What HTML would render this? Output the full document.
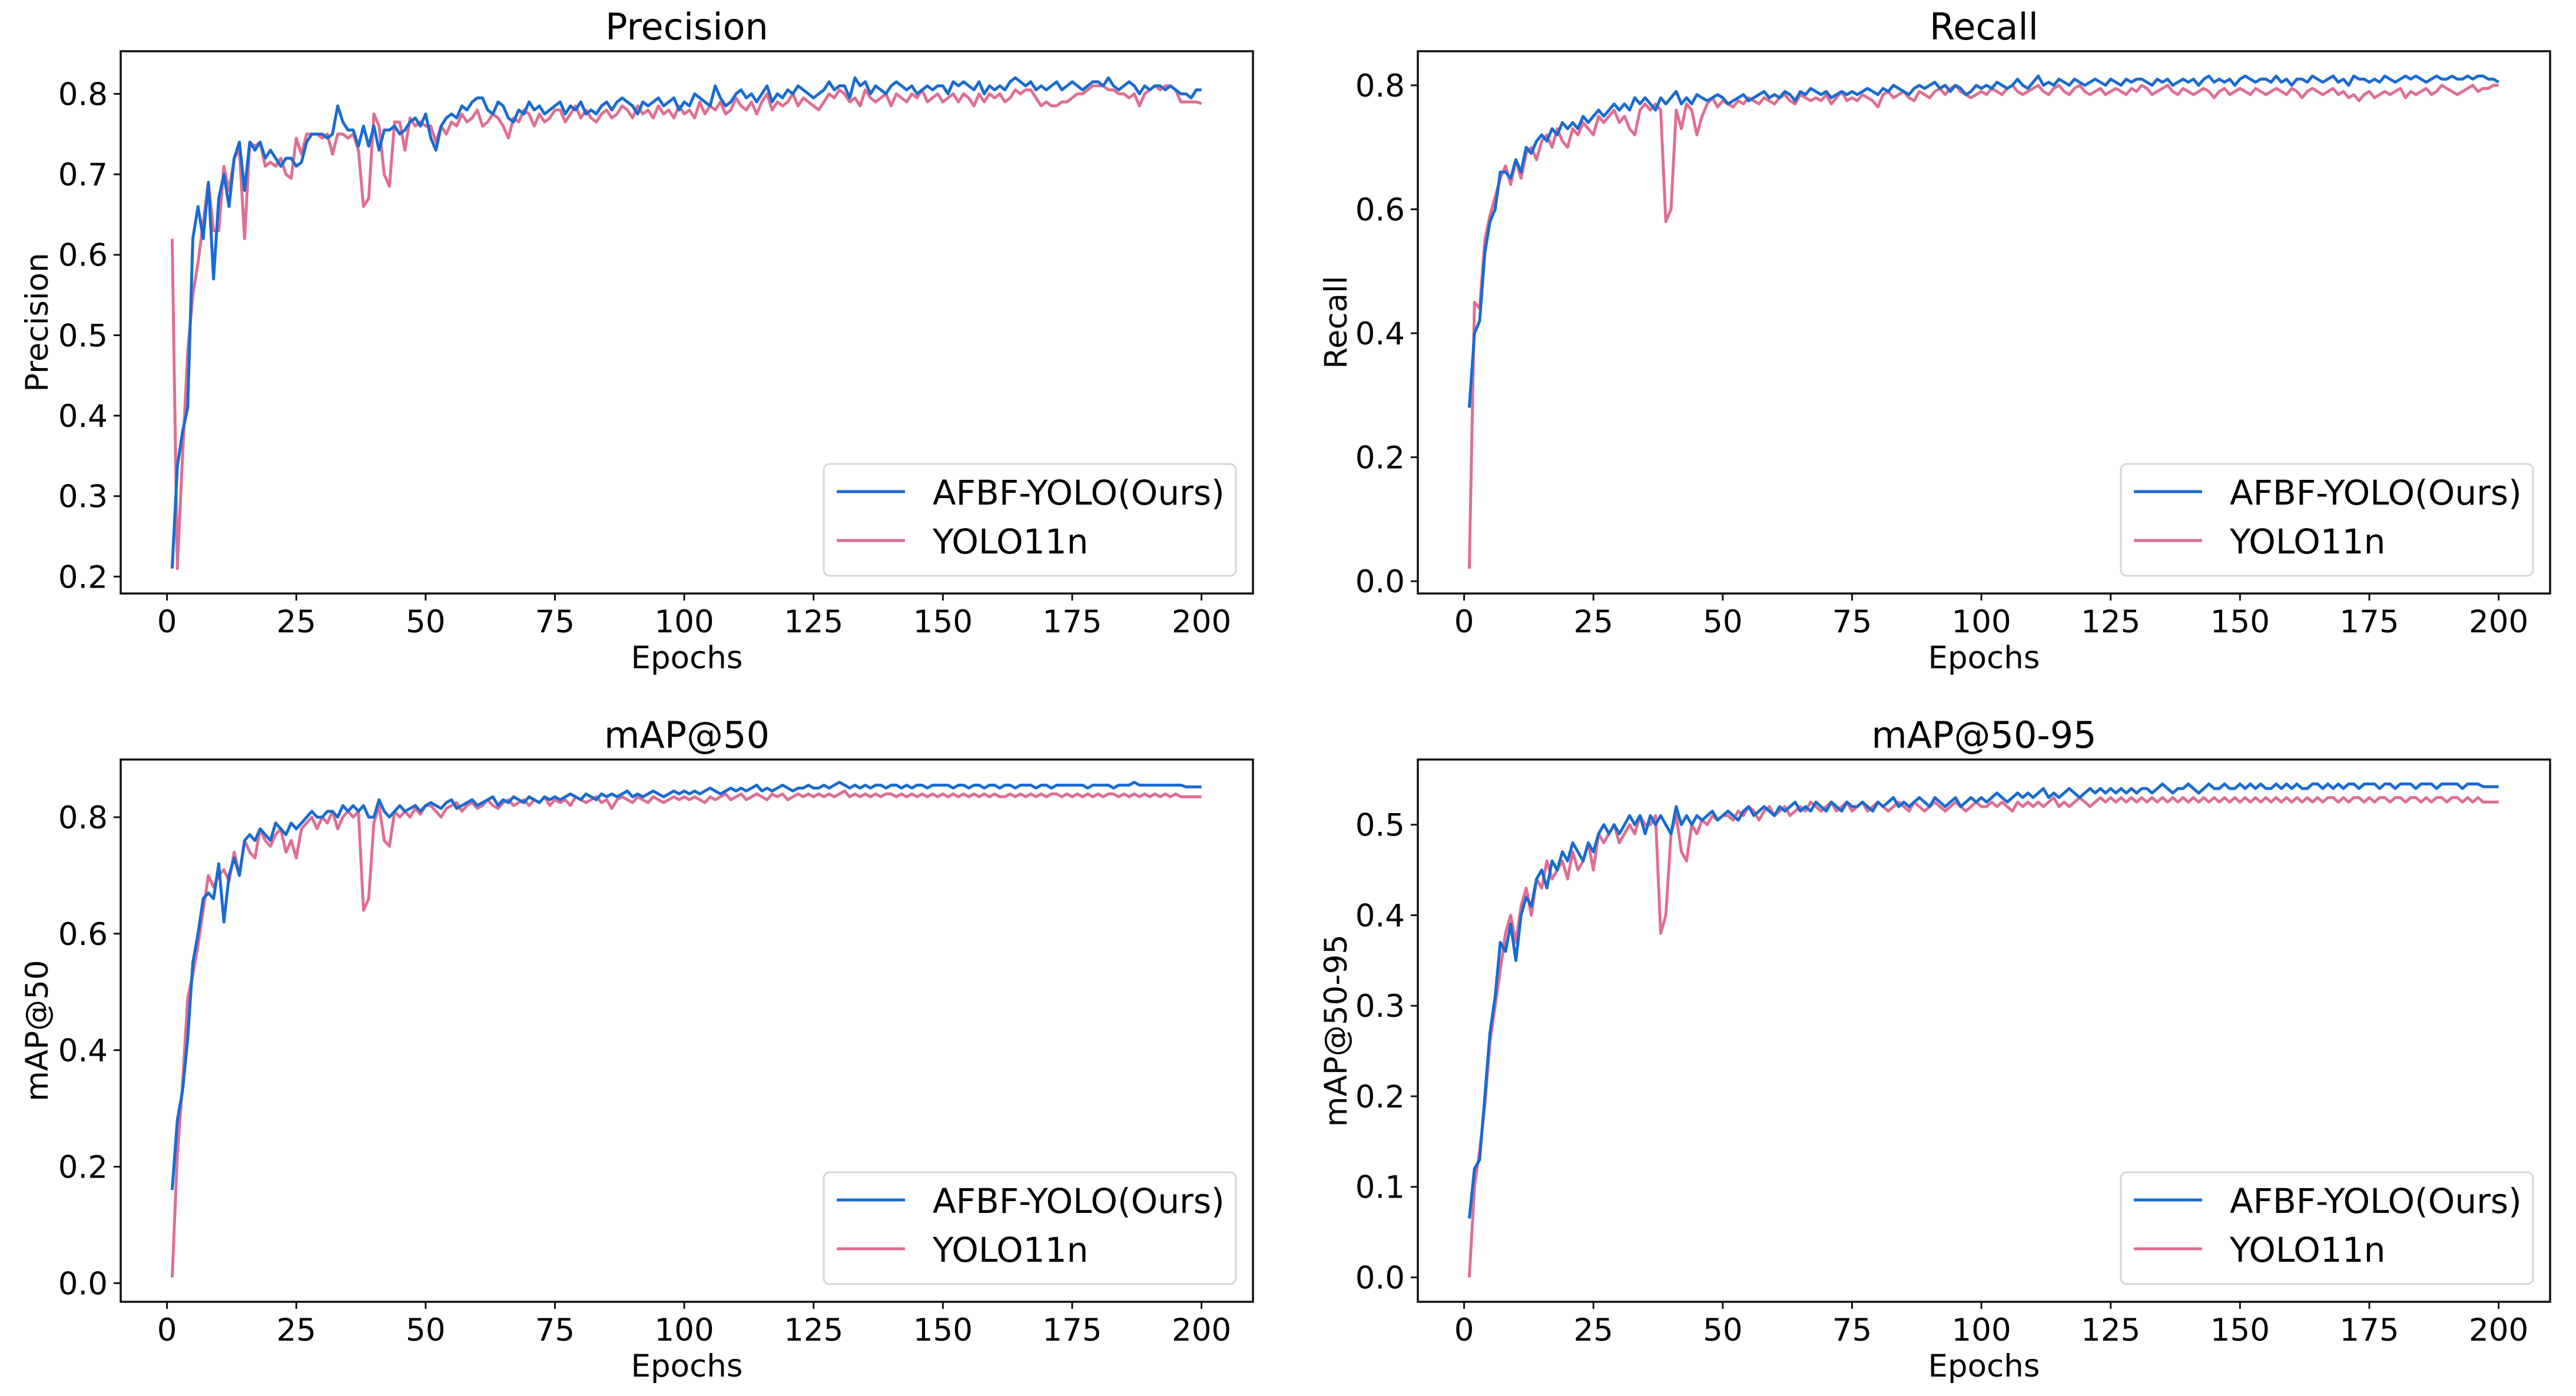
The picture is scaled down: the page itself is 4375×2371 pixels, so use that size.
<!DOCTYPE html>
<html><head><meta charset="utf-8"><style>
html,body{margin:0;padding:0;background:#fff;}
svg{display:block;}
text{font-family:"DejaVu Sans","Liberation Sans",sans-serif;fill:#000;}
</style></head><body>
<svg id="fig" width="4375" height="2371" viewBox="0 0 4375 2371" xmlns="http://www.w3.org/2000/svg"></svg>
<script>
const epochsMax = 200;
const xTicks = [0,25,50,75,100,125,150,175,200];
const seriesNames = ["AFBF-YOLO(Ours)","YOLO11n"];

const precOurs = [.21,.337,.38,.41,.62,.66,.62,.69,.57,.67,.70,.66,.72,.74,.68,.74,.73,.74,.72,.73,.72,.71,.72,.72,.71,.715,.74,.75,.75,.75,.745,.75,.785,.765,.755,.755,.735,.76,.735,.76,.73,.755,.755,.76,.75,.755,.765,.77,.76,.775,
.745,.73,.76,.77,.775,.77,.785,.78,.79,.795,.795,.78,.775,.79,.785,.77,.765,.78,.775,.79,.78,.785,.775,.78,.785,
.79,.775,.785,.78,.79,.775,.78,.775,.785,.79,.78,.79,.795,.79,.785,.775,.79,.785,.79,.795,.785,.79,.795,.78,.79,
.785,.8,.795,.79,.785,.81,.795,.785,.79,.8,.805,.795,.8,.79,.8,.81,.79,.8,.795,.805,.8,.81,.805,.8,.795,
.8,.805,.815,.805,.81,.81,.795,.82,.81,.815,.8,.81,.805,.8,.81,.815,.81,.805,.81,.8,.805,.81,.805,.81,.81,
.8,.815,.81,.815,.81,.805,.815,.8,.81,.805,.81,.805,.815,.82,.815,.81,.815,.805,.81,.805,.81,.815,.805,.81,.815,
.81,.805,.81,.815,.815,.81,.82,.81,.805,.81,.815,.81,.8,.81,.805,.81,.81,.805,.81,.805,.8,.8,.795,.805,.805];
const precBase = [.62,.21,.35,.48,.55,.59,.64,.69,.63,.63,.71,.68,.72,.73,.62,.74,.735,.74,.71,.715,.71,.72,.70,.695,.745,.725,.75,.75,.75,.745,.75,.725,.75,.75,.745,.75,.73,.66,.67,.775,.76,.70,.685,.765,.765,.73,.77,.76,.765,.76,
.76,.74,.76,.75,.765,.76,.775,.765,.77,.78,.76,.765,.775,.77,.76,.745,.77,.765,.78,.775,.76,.775,.765,.77,.78,
.78,.765,.775,.785,.77,.78,.77,.765,.775,.78,.77,.775,.785,.78,.77,.785,.775,.78,.77,.785,.775,.78,.77,.785,.775,
.78,.77,.79,.775,.785,.78,.79,.775,.78,.795,.785,.78,.79,.775,.79,.8,.78,.79,.785,.79,.8,.785,.795,.79,.785,
.78,.79,.8,.795,.805,.8,.79,.795,.785,.805,.795,.79,.795,.8,.785,.8,.795,.79,.8,.795,.805,.79,.795,.8,.79,
.795,.8,.79,.8,.795,.785,.8,.79,.8,.795,.8,.79,.795,.805,.8,.805,.805,.795,.785,.79,.785,.785,.79,.79,.795,
.8,.8,.805,.81,.81,.81,.805,.805,.8,.8,.795,.8,.785,.8,.805,.81,.805,.81,.81,.805,.79,.79,.79,.79,.788];

const recOurs = [.28,.40,.42,.53,.58,.60,.66,.66,.65,.68,.66,.70,.69,.71,.72,.71,.73,.72,.74,.73,.74,.73,.75,.74,.75,.76,.75,.76,.77,.76,.77,.76,.78,.77,.78,.77,.76,.78,.77,.78,.79,.77,
.78,.77,.785,.78,.775,.78,.785,.78,
.77,.775,.78,.785,.775,.78,.785,.79,.78,.785,.78,.79,.785,.775,.79,.785,.795,.79,.785,.79,.78,.785,.79,.785,.79,
.785,.79,.795,.79,.785,.795,.79,.8,.795,.79,.785,.795,.8,.795,.8,.805,.795,.8,.79,.8,.795,.785,.79,.8,.795,
.8,.795,.805,.8,.795,.8,.81,.8,.795,.805,.815,.8,.805,.8,.81,.805,.8,.81,.805,.8,.805,.81,.805,.8,.81,
.805,.8,.81,.805,.81,.81,.805,.8,.81,.805,.81,.8,.805,.81,.805,.81,.8,.81,.815,.805,.81,.805,.81,.8,.81,
.815,.81,.805,.81,.81,.805,.815,.805,.81,.8,.81,.81,.805,.815,.81,.805,.81,.815,.805,.81,.8,.815,.81,.81,.805,
.81,.805,.815,.81,.805,.81,.815,.81,.815,.81,.805,.81,.815,.81,.81,.815,.81,.81,.815,.81,.815,.815,.81,.81,.805];
const recBase = [.02,.45,.44,.55,.59,.62,.65,.67,.64,.68,.65,.69,.70,.68,.71,.72,.70,.73,.71,.70,.73,.72,.74,.73,.72,.75,.74,.75,.76,.74,.75,.73,.72,.76,.77,.76,.77,.76,.58,.60,.76,.73,.77,.76,.72,.75,
.77,.78,.765,.775,
.77,.765,.775,.77,.78,.775,.77,.78,.775,.77,.78,.785,.775,.77,.785,.78,.775,.78,.775,.785,.77,.78,.79,.775,.78,
.775,.785,.78,.775,.765,.785,.79,.78,.785,.79,.78,.775,.79,.785,.78,.79,.795,.785,.795,.8,.79,.785,.78,.785,.79,
.785,.795,.79,.785,.795,.8,.79,.785,.79,.795,.8,.79,.785,.795,.8,.79,.785,.795,.8,.79,.785,.79,.795,.785,.79,
.795,.79,.785,.795,.79,.8,.795,.785,.79,.795,.8,.79,.785,.795,.79,.785,.79,.795,.79,.78,.79,.795,.785,.79,.795,
.79,.785,.795,.79,.785,.79,.795,.79,.785,.795,.79,.78,.79,.795,.79,.785,.79,.795,.785,.79,.78,.785,.775,.785,.79,
.78,.785,.79,.785,.79,.795,.78,.79,.785,.79,.795,.785,.79,.8,.795,.79,.785,.79,.795,.8,.79,.795,.795,.8,.8];

const m50Ours = [.16,.28,.33,.42,.55,.60,.66,.67,.66,.72,.62,.70,.73,.70,.76,.77,.76,.78,.77,.76,.79,.78,.77,.79,.78,.79,.80,.81,.80,.80,.81,.81,.80,.82,.81,.82,.81,.82,.80,.80,.83,.81,.80,.81,
.82,.81,.815,.82,.81,.82,
.825,.82,.815,.825,.83,.815,.82,.825,.83,.82,.825,.83,.835,.82,.83,.825,.835,.83,.825,.835,.83,.825,.835,.83,.835,
.83,.835,.84,.835,.83,.84,.835,.83,.84,.835,.84,.835,.84,.845,.835,.84,.835,.84,.845,.84,.835,.84,.845,.84,.845,
.84,.845,.84,.845,.85,.845,.84,.845,.85,.845,.85,.845,.85,.855,.845,.85,.845,.85,.855,.85,.845,.85,.85,.855,.85,
.85,.855,.85,.855,.86,.855,.85,.855,.85,.855,.85,.855,.855,.85,.855,.855,.85,.855,.85,.855,.855,.85,.855,.855,.855,
.855,.85,.855,.855,.85,.855,.855,.85,.855,.855,.85,.855,.855,.85,.855,.855,.855,.85,.855,.855,.85,.855,.855,.855,.855,
.855,.855,.85,.855,.855,.855,.855,.85,.855,.855,.855,.86,.855,.855,.855,.855,.855,.855,.855,.855,.855,.852,.852,.852,.852];
const m50Base = [.01,.22,.34,.49,.53,.58,.64,.70,.68,.70,.71,.69,.74,.70,.76,.74,.73,.78,.76,.75,.77,.78,.74,.76,.73,.78,.79,.80,.78,.80,.79,.81,.78,.80,.81,.80,.81,.64,.66,.79,.82,.76,.75,.81,.80,
.81,.8,.815,.805,.82,
.82,.81,.8,.815,.82,.825,.81,.82,.825,.815,.82,.83,.82,.815,.825,.83,.82,.825,.83,.82,.83,.825,.835,.82,.83,
.825,.83,.82,.835,.83,.825,.83,.835,.825,.83,.815,.83,.835,.83,.825,.835,.83,.825,.835,.83,.825,.83,.835,.83,.835,
.83,.835,.83,.825,.835,.83,.835,.84,.83,.835,.84,.83,.835,.84,.835,.83,.84,.835,.84,.83,.835,.84,.835,.84,.835,
.84,.835,.84,.835,.84,.845,.835,.84,.835,.84,.835,.84,.835,.84,.84,.835,.84,.835,.84,.835,.84,.835,.84,.835,.84,
.835,.84,.835,.84,.835,.84,.835,.84,.835,.84,.835,.835,.84,.835,.84,.835,.84,.835,.84,.835,.84,.84,.835,.84,.835,
.84,.835,.84,.835,.84,.835,.84,.84,.835,.84,.835,.84,.835,.84,.835,.84,.835,.84,.835,.84,.835,.835,.835,.835,.835];

const m5095Ours = [.065,.12,.13,.20,.27,.31,.37,.36,.39,.35,.40,.42,.41,.44,.45,.43,.46,.45,.47,.46,.48,.47,.46,.48,.47,.49,.50,.49,.50,.49,.50,.51,.50,.51,.49,.51,.50,.51,.50,.49,.52,.50,.51,
.50,.51,.505,.51,.515,.505,.51,
.515,.51,.505,.515,.52,.51,.515,.52,.515,.51,.52,.515,.52,.525,.515,.52,.515,.525,.52,.515,.525,.52,.515,.525,.52,
.52,.525,.52,.515,.525,.52,.525,.53,.52,.525,.52,.525,.53,.525,.52,.53,.525,.52,.525,.53,.52,.525,.53,.525,.53,
.525,.53,.535,.53,.525,.53,.535,.53,.535,.53,.535,.54,.53,.535,.53,.535,.54,.535,.53,.535,.54,.535,.54,.535,.54,
.535,.54,.535,.54,.535,.54,.54,.535,.54,.545,.54,.535,.54,.54,.545,.54,.535,.54,.545,.54,.54,.545,.54,.54,.545,
.54,.545,.54,.545,.54,.54,.545,.54,.545,.54,.545,.54,.54,.545,.545,.54,.545,.54,.545,.54,.545,.545,.54,.545,.545,
.545,.54,.545,.545,.54,.545,.545,.545,.54,.545,.545,.545,.54,.545,.545,.545,.545,.54,.545,.545,.545,.542,.542,.542,.542];
const m5095Base = [0,.10,.14,.19,.26,.30,.34,.38,.40,.37,.41,.43,.40,.44,.43,.46,.44,.45,.46,.44,.47,.45,.46,.48,.45,.49,.48,.49,.50,.48,.49,.50,.49,.51,.50,.50,.51,.38,.40,.49,.51,.47,.46,.50,.49,
.505,.50,.51,.505,.51,
.51,.505,.515,.51,.52,.515,.505,.515,.52,.51,.515,.52,.51,.515,.52,.515,.525,.52,.515,.52,.525,.515,.52,.525,.515,
.52,.525,.515,.52,.525,.52,.515,.52,.525,.52,.515,.525,.52,.515,.52,.525,.52,.515,.52,.525,.52,.515,.52,.525,.52,
.52,.525,.52,.525,.52,.515,.525,.52,.525,.52,.525,.52,.525,.53,.52,.525,.52,.525,.53,.525,.52,.525,.53,.525,.53,
.525,.53,.525,.53,.525,.53,.525,.53,.525,.53,.525,.53,.525,.53,.525,.53,.525,.53,.525,.53,.525,.53,.525,.53,.525,
.53,.525,.53,.525,.53,.525,.53,.525,.53,.525,.53,.525,.53,.525,.53,.525,.53,.53,.525,.53,.525,.53,.53,.525,.53,
.525,.53,.53,.525,.53,.53,.525,.53,.53,.525,.53,.525,.53,.53,.525,.53,.53,.525,.53,.525,.53,.525,.525,.525,.525];

const precTicks = [0.2,0.3,0.4,0.5,0.6,0.7,0.8];
const recTicks = [0.0,0.2,0.4,0.6,0.8];
const m50Ticks = [0.0,0.2,0.4,0.6,0.8];
const m5095Ticks = [0.0,0.1,0.2,0.3,0.4,0.5];

const NS = "http://www.w3.org/2000/svg";
const svg = document.getElementById('fig');
const BLUE = "#1a6bd0", PINK = "#de6f92";
function mk(tag, attrs, parent){const e=document.createElementNS(NS,tag);for(const k in attrs)e.setAttribute(k,attrs[k]);(parent||svg).appendChild(e);return e;}

const panels = [
 {key:"precision", title:"Precision", ylab:"Precision", ours:precOurs, base:precBase, ticks:precTicks, ylim:[0.179,0.853], x0:205, y0:87, ylx:62},
 {key:"recall", title:"Recall", ylab:"Recall", ours:recOurs, base:recBase, ticks:recTicks, ylim:[-0.0198,0.855], x0:2408, y0:87, ylx:2268},
 {key:"map50", title:"mAP@50", ylab:"mAP@50", ours:m50Ours, base:m50Base, ticks:m50Ticks, ylim:[-0.032,0.899], x0:205, y0:1290, ylx:62},
 {key:"map50-95", title:"mAP@50-95", ylab:"mAP@50-95", ours:m5095Ours, base:m5095Base, ticks:m5095Ticks, ylim:[-0.027,0.572], x0:2408, y0:1290, ylx:2268}
];
const W = 1923, H = 921, XL = -8.95, XR = 209.95;

panels.forEach(p=>{
  const g = mk('g',{});
  
  
  const xs = v => p.x0 + (v - XL)/(XR - XL)*W;
  const ys = v => p.y0 + H - (v - p.ylim[0])/(p.ylim[1]-p.ylim[0])*H;

  const t = mk('text',{x:p.x0+W/2, y:p.y0-20, 'font-size':62, 'text-anchor':'middle'}, g);
  t.textContent = p.title;
  
  

  [[p.base,PINK,'yolo11n'],[p.ours,BLUE,'afbf-yolo']].forEach(([arr,col,nm])=>{
    const d = arr.map((v,i)=>(i?'L':'M')+xs(i+1).toFixed(1)+' '+ys(v).toFixed(1)).join(' ');
    const pl = mk('path',{d:d, fill:'none', stroke:col, 'stroke-width':5, 'stroke-linejoin':'round'}, g);
    
    
  });

  const fr = mk('rect',{x:p.x0, y:p.y0, width:W, height:H, fill:'none', stroke:'#111', 'stroke-width':3.5}, g);
  
  

  xTicks.forEach(v=>{
    const x = xs(v);
    mk('line',{x1:x,x2:x,y1:p.y0+H,y2:p.y0+H+12,stroke:'#111','stroke-width':3}, g);
    const tl = mk('text',{x:x, y:p.y0+H+66, 'font-size':53, 'text-anchor':'middle'}, g);
    tl.textContent = v;
    
    
  });
  const xl = mk('text',{x:p.x0+W/2, y:p.y0+H+127, 'font-size':53, 'text-anchor':'middle'}, g);
  xl.textContent = "Epochs";
  
  

  p.ticks.forEach(v=>{
    const y = ys(v);
    mk('line',{x1:p.x0-12,x2:p.x0,y1:y,y2:y,stroke:'#111','stroke-width':3}, g);
    const tl = mk('text',{x:p.x0-22, y:y+19, 'font-size':53, 'text-anchor':'end'}, g);
    tl.textContent = v.toFixed(1);
    
    
  });
  const yc = p.y0 + H/2;
  const yl = mk('text',{x:p.ylx, y:yc, 'font-size':53, 'text-anchor':'middle', transform:`rotate(-90 ${p.ylx} ${yc})`, dy:19}, g);
  yl.textContent = p.ylab;
  
  

  const lx = p.x0+W-729, ly = p.y0+H-220;
  const lg = mk('g',{}, g);
  
  
  mk('rect',{x:lx, y:ly, width:700, height:190, rx:10, fill:'#fff', stroke:'#d6d6d6', 'stroke-width':3}, lg);
  [[BLUE,seriesNames[0],ly+47],[PINK,seriesNames[1],ly+130]].forEach(([col,nm,yy],i)=>{
    const e = mk('g',{}, lg);
    
    
    mk('line',{x1:lx+22,x2:lx+138,y1:yy,y2:yy,stroke:col,'stroke-width':5}, e);
    const tx = mk('text',{x:lx+185, y:yy+22, 'font-size':58}, e);
    tx.textContent = nm;
  });
});
</script>
</body></html>
